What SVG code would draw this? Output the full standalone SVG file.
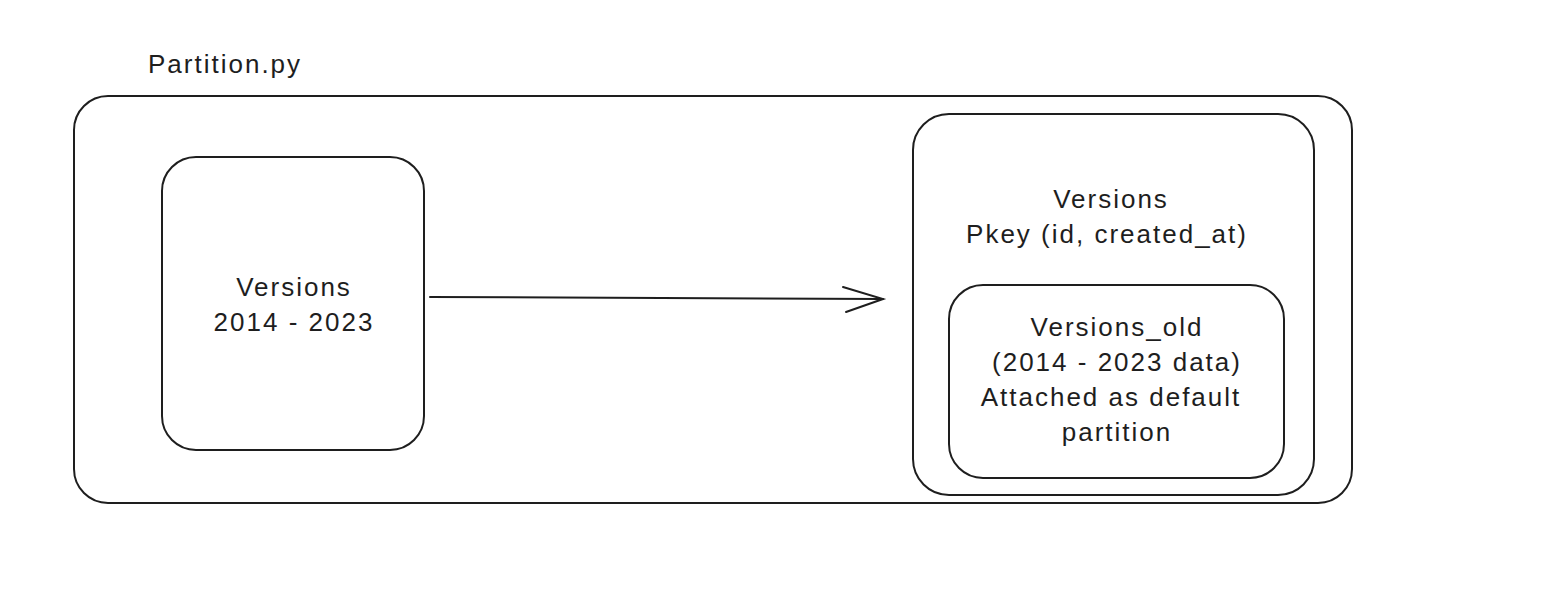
<svg xmlns="http://www.w3.org/2000/svg" width="1552" height="590" viewBox="0 0 1552 590">
<style>
.box{fill:#fff;stroke:#1e1e1e;stroke-width:2}
.t{font-family:"Liberation Sans",Arial,sans-serif;font-size:26px;letter-spacing:2px;fill:#1e1e1e;text-anchor:middle}
.c{fill:none;stroke:#1e1e1e;stroke-width:2;stroke-linecap:round}
</style>
<rect width="1552" height="590" fill="#fff"/>
<g id="title"><text class="t" x="148" y="73" style="text-anchor:start">Partition.py</text></g>
<g id="outer"><rect class="box" x="74" y="96" width="1278" height="407" rx="34"/></g>
<g id="versions-src">
<rect class="box" x="162" y="157" width="262" height="293" rx="34"/>
<text class="t" x="294" y="296">Versions</text>
<text class="t" x="294" y="331">2014 - 2023</text>
</g>
<g id="versions-new">
<rect class="box" x="913" y="114" width="401" height="381" rx="36"/>
<text class="t" x="1111" y="208">Versions</text>
<text class="t" x="1107" y="243">Pkey (id, created_at)</text>
</g>
<g id="versions-old">
<rect class="box" x="949" y="285" width="335" height="193" rx="34"/>
<text class="t" x="1117" y="336">Versions_old</text>
<text class="t" x="1117" y="371">(2014 - 2023 data)</text>
<text class="t" x="1111" y="406">Attached as default</text>
<text class="t" x="1117" y="441">partition</text>
</g>
<g id="connectors">
<path class="c" d="M430 297 L883 299"/>
<path class="c" d="M843 287 L883 299 L846 312"/>
</g>
</svg>
